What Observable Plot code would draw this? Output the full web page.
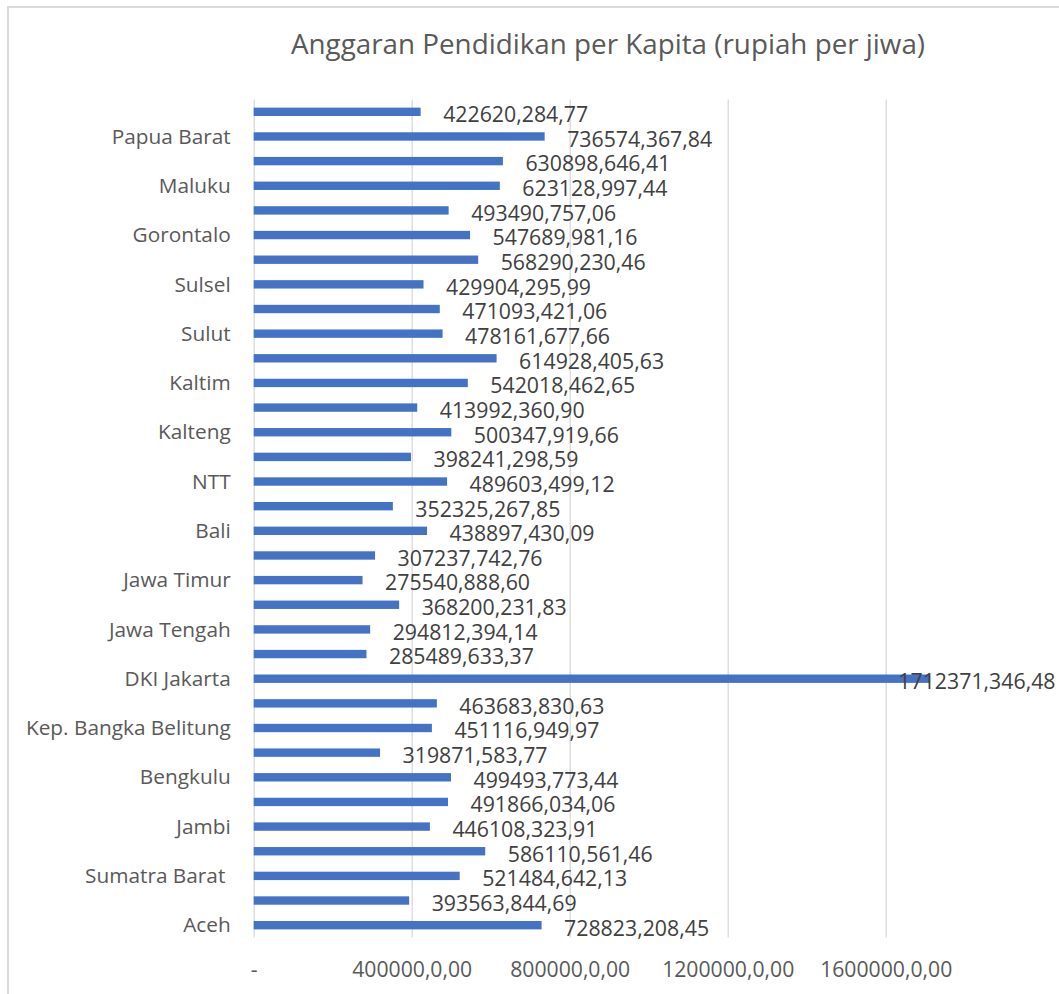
<!DOCTYPE html>
<html>
<head>
<meta charset="utf-8">
<script src="https://cdn.jsdelivr.net/npm/d3@7"></script>
<script src="https://cdn.jsdelivr.net/npm/@observablehq/plot@0.6"></script>
<style>
  html, body { margin: 0; padding: 0; background: #fff; }
  #chart { position: relative; width: 1059px; height: 994px; overflow: hidden; font-family: 'Open Sans', sans-serif; }
  #title { position: absolute; top: 24px; left: 608px; transform: translateX(-50%); white-space: nowrap;
           font-size: 27.8px; color: #595959; line-height: normal; }
  #plot { position: absolute; top: 80px; left: 0; }
  .bl { position: absolute; left: 7px; top: 6px; width: 2px; height: 990px; background: #d9d9d9; }
  .bt { position: absolute; left: 7px; top: 6px; width: 1052px; height: 2px; background: #d9d9d9; }
  svg text { white-space: pre; }
</style>
</head>
<body>
<div id="chart">
  <div class="bl"></div>
  <div class="bt"></div>
  <div id="title">Anggaran Pendidikan per Kapita (rupiah per jiwa)</div>
  <div id="plot"></div>
</div>
<script>
// bottom (Aceh) to top (Papua)
const provinces = ["Aceh","Sumut","Sumatra Barat ","Riau","Jambi","Sumsel","Bengkulu","Lampung",
  "Kep. Bangka Belitung","Kep. Riau","DKI Jakarta","Jawa Barat","Jawa Tengah","DI Yogyakarta",
  "Jawa Timur","Banten","Bali","NTB","NTT","Kalbar","Kalteng","Kalsel","Kaltim","Kaltara",
  "Sulut","Sulteng","Sulsel","Sultra","Gorontalo","Sulbar","Maluku","Maluku Utara","Papua Barat","Papua"];

const values = [728823.208, 393563.845, 521484.642, 586110.561, 446108.324, 491866.034, 499493.773, 319871.584,
  451116.950, 463683.831, 1712371.346, 285489.633, 294812.394, 368200.232,
  275540.889, 307237.743, 438897.430, 352325.268, 489603.499, 398241.299, 500347.920, 413992.361, 542018.463, 614928.406,
  478161.678, 471093.421, 429904.296, 568290.230, 547689.981, 493490.757, 623128.997, 630898.646, 736574.368, 422620.285];

const valueLabels = ["728823,208,45","393563,844,69","521484,642,13","586110,561,46","446108,323,91","491866,034,06",
  "499493,773,44","319871,583,77","451116,949,97","463683,830,63","1712371,346,48","285489,633,37","294812,394,14",
  "368200,231,83","275540,888,60","307237,742,76","438897,430,09","352325,267,85","489603,499,12","398241,298,59",
  "500347,919,66","413992,360,90","542018,462,65","614928,405,63","478161,677,66","471093,421,06","429904,295,99",
  "568290,230,46","547689,981,16","493490,757,06","623128,997,44","630898,646,41","736574,367,84","422620,284,77"];

const xTicks = [0, 400000, 800000, 1200000, 1600000];
const xTickLabels = ["-", "400000,0,00", "800000,0,00", "1200000,0,00", "1600000,0,00"];

const data = provinces.map((p, i) => ({province: p, value: values[i], label: valueLabels[i]}));
const shownProvinces = provinces.filter((d, i) => i % 2 === 0);

const chart = Plot.plot({
  width: 1059,
  height: 914,
  marginTop: 19.5,
  marginBottom: 56.5,
  marginLeft: 253.7,
  marginRight: 15.3,
  style: {fontFamily: "'Open Sans', sans-serif", fontSize: "21px", color: "#595959", background: "transparent", overflow: "visible"},
  x: {domain: [0, 2000000]},
  y: {domain: provinces.slice().reverse(), paddingInner: 0.66, paddingOuter: 0.33, align: 0.5, round: false},
  marks: [
    Plot.gridX(xTicks, {stroke: "#d9d9d9", strokeOpacity: 1, strokeWidth: 1.3}),
    Plot.barX(data, {x: "value", y: "province", fill: "#4472C4"}),
    Plot.text(data.filter(d => d.value <= 1600000), {x: "value", y: "province", text: "label", dx: 22, dy: 3,
      textAnchor: "start", fill: "#404040", fontSize: 21.3}),
    Plot.text(data.filter(d => d.value > 1600000), {y: "province", text: "label", frameAnchor: "right",
      textAnchor: "end", dx: 11.3, dy: 3, fill: "#404040", fontSize: 21.3}),
    Plot.axisX({ticks: xTicks, tickFormat: d => xTickLabels[xTicks.indexOf(d)], tickSize: 0, tickPadding: 23.6,
      fontSize: 21.2, label: null}),
    Plot.axisY({ticks: shownProvinces, tickSize: 0, tickPadding: 23.5, fontSize: 20.8, label: null})
  ]
});
document.getElementById("plot").appendChild(chart);
</script>
</body>
</html>
